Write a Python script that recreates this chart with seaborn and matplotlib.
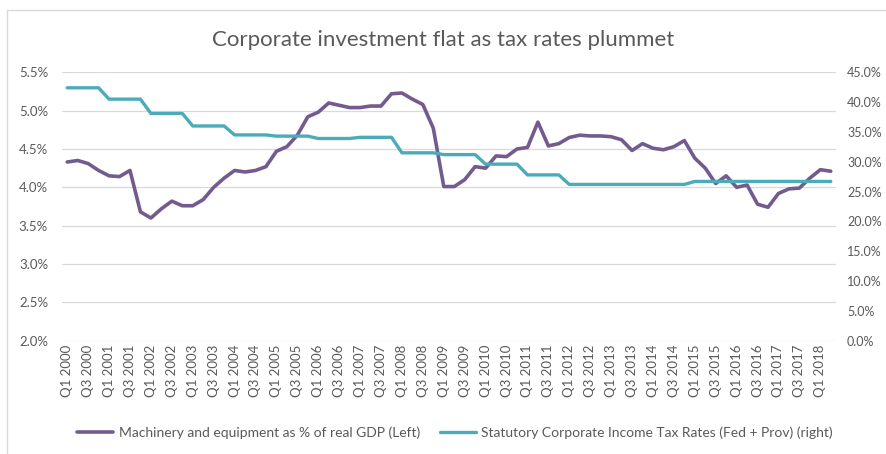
import numpy as np
import pandas as pd
import matplotlib
matplotlib.use("Agg")
import matplotlib.pyplot as plt
import seaborn as sns
from matplotlib.patches import Rectangle
from matplotlib.ticker import FuncFormatter, MultipleLocator

# ---------------- data ----------------
years = list(range(2000, 2019))
quarters = [f"Q{q} {y}" for y in years for q in (1, 2, 3, 4)][:74]

machinery_pct_gdp = [
    4.33, 4.35, 4.31, 4.22, 4.15, 4.14, 4.22, 3.68, 3.60, 3.72,
    3.82, 3.76, 3.76, 3.84, 4.00, 4.12, 4.22, 4.20, 4.22, 4.27,
    4.47, 4.53, 4.68, 4.92, 4.98, 5.10, 5.07, 5.04, 5.04, 5.06,
    5.06, 5.22, 5.23, 5.15, 5.08, 4.77, 4.01, 4.01, 4.10, 4.27,
    4.25, 4.41, 4.40, 4.50, 4.52, 4.85, 4.54, 4.57, 4.65, 4.68,
    4.67, 4.67, 4.66, 4.62, 4.48, 4.57, 4.51, 4.49, 4.53, 4.61,
    4.38, 4.25, 4.05, 4.15, 4.00, 4.03, 3.78, 3.74, 3.92, 3.98,
    3.99, 4.12, 4.23, 4.21,
]

tax_rate_pct = [
    42.4, 42.4, 42.4, 42.4, 40.5, 40.5, 40.5, 40.5, 38.1, 38.1,
    38.1, 38.1, 36.0, 36.0, 36.0, 36.0, 34.5, 34.5, 34.5, 34.5,
    34.3, 34.3, 34.3, 34.3, 33.9, 33.9, 33.9, 33.9, 34.1, 34.1,
    34.1, 34.1, 31.5, 31.5, 31.5, 31.5, 31.2, 31.2, 31.2, 31.2,
    29.6, 29.6, 29.6, 29.6, 27.8, 27.8, 27.8, 27.8, 26.2, 26.2,
    26.2, 26.2, 26.2, 26.2, 26.2, 26.2, 26.2, 26.2, 26.2, 26.2,
    26.7, 26.7, 26.7, 26.7, 26.7, 26.7, 26.7, 26.7, 26.7, 26.7,
    26.7, 26.7, 26.7, 26.7,
]

label_left = "Machinery and equipment as % of real GDP (Left)"
label_right = "Statutory Corporate Income Tax Rates (Fed + Prov) (right)"
title = "Corporate investment flat as tax rates plummet"

df = pd.DataFrame({
    "pos": np.arange(len(quarters)),
    "quarter": quarters,
    "machinery": machinery_pct_gdp,
    "tax": tax_rate_pct,
})

# ---------------- style ----------------
sns.set_theme(style="white")
plt.rcParams["font.family"] = ["Lato", "DejaVu Sans"]
TXT = "#595959"
PURPLE = "#735b8f"
TEAL = "#4aabb9"
GRID = "#d9d9d9"

fig = plt.figure(figsize=(8.87, 4.54), dpi=100)
ax = fig.add_axes([62 / 887, (454 - 340.7) / 454, (836 - 62) / 887, (340.7 - 72.3) / 454])
ax2 = ax.twinx()

sns.lineplot(data=df, x="pos", y="machinery", ax=ax, color=PURPLE, lw=2.6, label=label_left, legend=False)
sns.lineplot(data=df, x="pos", y="tax", ax=ax2, color=TEAL, lw=2.4, label=label_right, legend=False)

ax.set_xlim(-0.5, len(quarters) - 0.5)
ax.set_ylim(2.0, 5.5)
ax2.set_ylim(0, 45)
ax.yaxis.set_major_locator(MultipleLocator(0.5))
ax2.yaxis.set_major_locator(MultipleLocator(5))
ax.yaxis.set_major_formatter(FuncFormatter(lambda v, p: f"{v:.1f}%"))
ax2.yaxis.set_major_formatter(FuncFormatter(lambda v, p: f"{v:.1f}%"))

ax.grid(axis="y", color=GRID, lw=0.9)
ax.set_axisbelow(True)
ax2.grid(False)

xt = df["pos"][::2]
ax.set_xticks(xt)
ax.set_xticklabels(df["quarter"][::2], rotation=90)
ax.tick_params(axis="x", length=0, pad=3, labelsize=9.5, colors=TXT)
ax.tick_params(axis="y", length=0, pad=10, labelsize=9.5, colors=TXT)
ax2.tick_params(axis="y", length=0, pad=8, labelsize=9, colors=TXT)
ax.set_xlabel("")
ax.set_ylabel("")
ax2.set_ylabel("")

for a in (ax, ax2):
    for s in a.spines.values():
        s.set_visible(False)

fig.text(0.5, 1 - 40 / 454, title, ha="center", va="center", fontsize=16, color=TXT)

h1, l1 = ax.get_legend_handles_labels()
h2, l2 = ax2.get_legend_handles_labels()
leg = fig.legend(h1 + h2, l1 + l2, loc="center", bbox_to_anchor=(0.513, (454 - 433) / 454),
                 ncol=2, frameon=False, fontsize=10, handlelength=2.6, handletextpad=0.4,
                 columnspacing=1.4)
for t in leg.get_texts():
    t.set_color(TXT)

fig.add_artist(Rectangle((7 / 887, -0.1), 1.2, (454 - 10) / 454 + 0.1, transform=fig.transFigure,
                         fill=False, edgecolor=GRID, lw=1.0, clip_on=False))

fig.savefig("out.png", dpi=100)
